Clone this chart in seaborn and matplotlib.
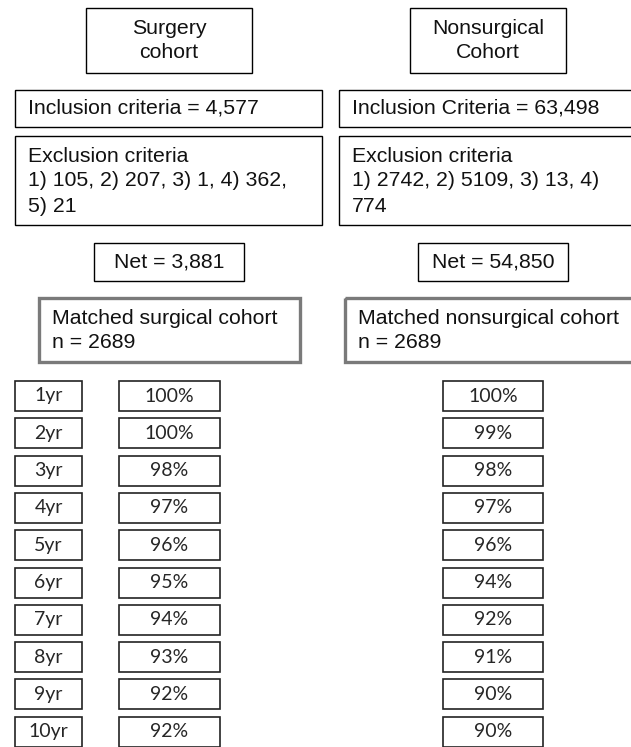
import matplotlib
matplotlib.use("Agg")
import matplotlib.pyplot as plt
from matplotlib.patches import Rectangle
import seaborn as sns

# dados do fluxograma
years = ["1yr", "2yr", "3yr", "4yr", "5yr", "6yr", "7yr", "8yr", "9yr", "10yr"]
surgical_pct = [100, 100, 98, 97, 96, 95, 94, 93, 92, 92]
nonsurgical_pct = [100, 99, 98, 97, 96, 94, 92, 91, 90, 90]

cohort_titles = ["Surgery\ncohort", "Nonsurgical\nCohort"]
inclusion_text = ["Inclusion criteria = 4,577", "Inclusion Criteria = 63,498"]
exclusion_text = ["Exclusion criteria\n1) 105, 2) 207, 3) 1, 4) 362,\n5) 21",
                  "Exclusion criteria\n1) 2742, 2) 5109, 3) 13, 4)\n774"]
net_text = ["Net = 3,881", "Net = 54,850"]
matched_text = ["Matched surgical cohort\nn = 2689", "Matched nonsurgical cohort\nn = 2689"]

sns.set_theme(style="white")
plt.rcParams['font.family'] = ['Liberation Sans', 'DejaVu Sans']

W, H = 631, 747
fig = plt.figure(figsize=(W / 100, H / 100), dpi=100)
ax = fig.add_axes([0, 0, 1, 1])
ax.set_xlim(0, W)
ax.set_ylim(H, 0)
ax.axis("off")

FS = 15.3
YFS = 14


def box(x0, y0, x1, y1, lw=1.0, color="black"):
    ax.add_patch(Rectangle((x0, y0), x1 - x0, y1 - y0, fill=False,
                           edgecolor=color, linewidth=lw, clip_on=True))


def lines(x, y0, txt, step=25, ha="left"):
    for k, ln in enumerate(txt.split("\n")):
        ax.text(x, y0 + k * step, ln, fontsize=FS, family="Liberation Sans",
                ha=ha, va="center", color="#111111")


# colunas: esquerda (cirurgia) e direita (nao cirurgica)
cols = [
    dict(title=(86, 252), inc=(15, 322), net=(94, 244), match=(39, 300), tx=28, mtx=52),
    dict(title=(410, 566), inc=(339, 660), net=(418, 568), match=(345, 660), tx=352, mtx=358),
]

for i, c in enumerate(cols):
    # caixa do titulo
    box(c["title"][0], 8, c["title"][1], 73)
    lines((c["title"][0] + c["title"][1]) / 2, 28, cohort_titles[i], ha="center")
    # inclusao
    box(c["inc"][0], 90, c["inc"][1], 127)
    lines(c["tx"], 108, inclusion_text[i])
    # exclusao
    box(c["inc"][0], 136, c["inc"][1], 225)
    lines(c["tx"], 156, exclusion_text[i], step=25)
    # net
    box(c["net"][0], 243, c["net"][1], 281)
    lines((c["net"][0] + c["net"][1]) / 2, 262, net_text[i], ha="center")
    # pareado
    box(c["match"][0], 298, c["match"][1], 362, lw=2.4, color="#7a7a7a")
    lines(c["mtx"], 318, matched_text[i], step=25)

# sobrevida por ano
row_top, row_step, row_h = 381, 37.3, 30
for j, yr in enumerate(years):
    top = row_top + j * row_step
    cy = top + row_h / 2
    box(15, top, 82, top + row_h, lw=1.2, color="#222222")
    ax.text(48.5, cy, yr, fontsize=YFS, family="Lato", ha="center", va="center")
    box(119, top, 220, top + row_h, lw=1.2, color="#222222")
    ax.text(169.5, cy, f"{surgical_pct[j]}%", fontsize=YFS, family="Lato",
            ha="center", va="center")
    box(443, top, 543, top + row_h, lw=1.2, color="#222222")
    ax.text(493, cy, f"{nonsurgical_pct[j]}%", fontsize=YFS, family="Lato",
            ha="center", va="center")

fig.savefig("out.png", dpi=100)
